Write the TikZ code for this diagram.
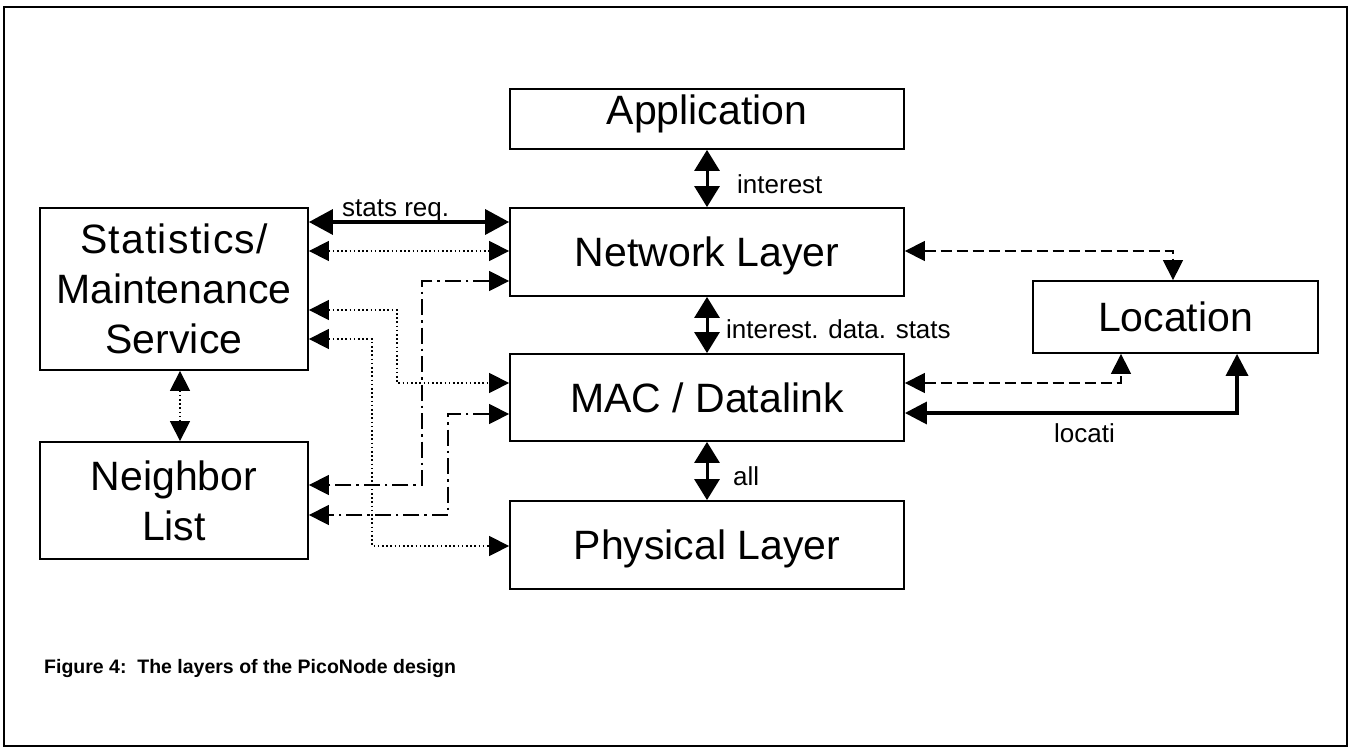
\documentclass[tikz,border=0pt]{standalone}
\usepackage{fontspec}
\setmainfont{Liberation Sans}
\usetikzlibrary{arrows.meta}
\begin{document}
\begin{tikzpicture}[x=1pt,y=-1pt,
  box/.style={draw, line width=1.8pt, inner sep=0pt, font=\fontsize{41}{50}\selectfont},
  onel/.style={text height=29.5pt, text depth=0pt},
  lbl/.style={font=\fontsize{26}{30}\selectfont, inner sep=0pt, anchor=base west},
  lnthin/.style={line width=1.4pt},
  dotl/.style={lnthin, dash pattern=on 1.6pt off 2.6pt},
  dashl/.style={lnthin, dash pattern=on 11pt off 5pt},
  dashdotl/.style={lnthin, dash pattern=on 16pt off 5pt on 2.5pt off 5pt},
  dbl/.style={arrows={Triangle[length=20pt,width=20pt]-Triangle[length=20pt,width=20pt]}},
  thickdbl/.style={line width=3.5pt, arrows={Triangle[length=24pt,width=25pt]-Triangle[length=24pt,width=25pt]}},
  thickr/.style={line width=3.5pt, arrows={Triangle[length=22pt,width=22pt]-Triangle[length=22pt,width=22pt]}},
  bigdbl/.style={line width=3pt, arrows={Triangle[length=21pt,width=25pt]-Triangle[length=21pt,width=25pt]}}
]
\useasboundingbox (0,0) rectangle (1351,749);
\draw[line width=2pt] (4,7) rectangle (1347,746);

% boxes
\node[box, minimum width=394pt, minimum height=60pt, onel, text depth=18pt] (app) at (707,119) {Application};
\node[box, minimum width=394pt, minimum height=88pt, onel] (net) at (707,252) {Network Layer};
\node[box, minimum width=394pt, minimum height=87pt, onel] (mac) at (707,397.5) {MAC / Datalink};
\node[box, minimum width=394pt, minimum height=88pt, onel] (phy) at (707,545) {Physical Layer};
\node[box, minimum width=268pt, minimum height=162pt, align=center] (stats) at (174,289) {{\addfontfeature{LetterSpace=3}Statistics/}\\Maintenance\\Service};
\node[box, minimum width=268pt, minimum height=117pt, align=center] (nbr) at (174,500.5) {Neighbor\\List};
\node[box, minimum width=285pt, minimum height=72pt, onel] (loc) at (1175.5,317) {Location};

% vertical thick arrows
\draw[bigdbl] (app.south) -- (net.north);
\draw[bigdbl] (net.south) -- (mac.north);
\draw[bigdbl] (mac.south) -- (phy.north);

% labels
\node[lbl] (l1) at (737,193) {interest};
\node[lbl] (l2) at (726,338) {interest. data. stats};
\node[lbl] (l3) at (733,485) {all};
\node[lbl] (l4) at (342,216) {stats req.};
\node[lbl] (l5) at (1054,442) {locati};

% helper coordinates
\coordinate (ya) at (0,222);
\coordinate (yb) at (0,251);
\coordinate (c1) at (422,281); \coordinate (c2) at (422,485);
\coordinate (c3) at (448,414); \coordinate (c4) at (448,515);
\coordinate (c5) at (397,310); \coordinate (c6) at (397,383);
\coordinate (c7) at (372,339); \coordinate (c8) at (372,546);
\coordinate (d1) at (1173,251);
\coordinate (d2) at (1121,383);
\coordinate (d3) at (1237,413);
\coordinate (xs) at (180,0);

% left connectors
\draw[thickdbl] (stats.east |- ya) -- (net.west |- ya);
\draw[dotl, dbl] (stats.east |- yb) -- (net.west |- yb);
\draw[dashdotl, dbl] (net.west |- c1) -- (c1) -- (c2) -- (nbr.east |- c2);
\draw[dashdotl, dbl] (mac.west |- c3) -- (c3) -- (c4) -- (nbr.east |- c4);
\draw[dotl, dbl] (stats.east |- c5) -- (c5) -- (c6) -- (mac.west |- c6);
\draw[dotl, dbl] (stats.east |- c7) -- (c7) -- (c8) -- (phy.west |- c8);
\draw[dotl, dbl] (stats.south -| xs) -- (nbr.north -| xs);

% right connectors
\draw[dashl, dbl] (net.east |- d1) -- (d1) -- (loc.north -| d1);
\draw[dashl, dbl] (mac.east |- d2) -- (d2) -- (loc.south -| d2);
\draw[thickr] (mac.east |- d3) -- (d3) -- (loc.south -| d3);

% caption
\node[font=\bfseries\fontsize{19.5}{23}\selectfont, inner sep=0pt, anchor=base west] (cap) at (44,673) {Figure 4:\ \ The layers of the PicoNode design};
\end{tikzpicture}
\end{document}
